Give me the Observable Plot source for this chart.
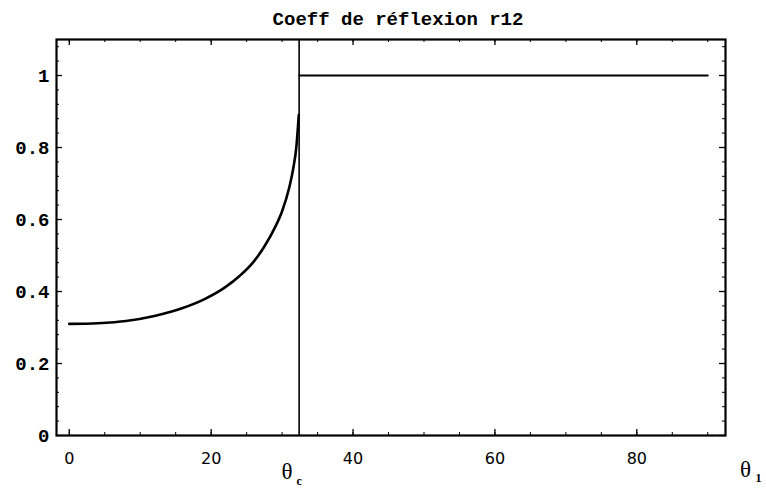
<!DOCTYPE html>
<html>
<head>
<meta charset="utf-8">
<script src="https://cdn.jsdelivr.net/npm/d3@7"></script>
<script src="https://cdn.jsdelivr.net/npm/@observablehq/plot@0.6"></script>
<style>
  html, body { margin: 0; padding: 0; background: #fff; }
  #chart svg { display: block; }
</style>
</head>
<body>
<div id="chart"></div>
<script>
// Data
const theta = [0, 4, 8, 12, 16, 19, 22, 24, 26, 27.5, 29, 30, 31, 31.6, 32, 32.35];
const r12   = [0.31, 0.312, 0.318, 0.332, 0.354, 0.378, 0.412, 0.443, 0.483, 0.525, 0.578, 0.623, 0.688, 0.745, 0.8, 0.89];
const thetaFlat = [32.4, 90];
const rFlat = [1, 1];
const thetaC = [32.4];
const xMajor = [0, 20, 40, 60, 80];
const xMinor = d3.range(0, 91, 5);
const yMajor = [0, 0.2, 0.4, 0.6, 0.8, 1];
const yLabels = ["0", "0.2", "0.4", "0.6", "0.8", "1"];
const yMinor = d3.range(0, 1.1, 0.04);
const titleText = "Coeff de réflexion r12";

const W = 766, H = 488;
const mL = 56, mR = 41, mT = 39, mB = 53;
const pw = W - mL - mR, ph = H - mT - mB;

const curve = theta.map((t, i) => ({t, r: r12[i]}));
const flat = thetaFlat.map((t, i) => ({t, r: rFlat[i]}));

const chart = Plot.plot({
  width: W, height: H,
  marginLeft: mL, marginRight: mR, marginTop: mT, marginBottom: mB,
  style: {background: "#fff", color: "#000", overflow: "visible"},
  x: {domain: [-1.8, 92.5]},
  y: {domain: [0, 1.1]},
  marks: [
    // minor ticks (inward)
    Plot.ruleX(xMinor, {x: d => d, insetTop: ph - 3, strokeWidth: 1}),
    Plot.ruleX(xMinor, {x: d => d, insetBottom: ph - 3, strokeWidth: 1}),
    Plot.ruleY(yMinor, {y: d => d, insetRight: pw - 3, strokeWidth: 1}),
    Plot.ruleY(yMinor, {y: d => d, insetLeft: pw - 3, strokeWidth: 1}),
    // major ticks (inward)
    Plot.ruleX(xMajor, {x: d => d, insetTop: ph - 6, strokeWidth: 1.3}),
    Plot.ruleX(xMajor, {x: d => d, insetBottom: ph - 6, strokeWidth: 1.3}),
    Plot.ruleY(yMajor, {y: d => d, insetRight: pw - 6, strokeWidth: 1.3}),
    Plot.ruleY(yMajor, {y: d => d, insetLeft: pw - 6, strokeWidth: 1.3}),
    Plot.axisX(xMajor, {tickSize: 0, tickPadding: 17, fontSize: 16, fontFamily: "DejaVu Sans", label: null}),
    Plot.axisY(yMajor, {tickSize: 0, tickPadding: 7, fontSize: 19, fontFamily: "Liberation Mono", fontWeight: "bold", label: null,
      tickFormat: d => yLabels[yMajor.indexOf(d)]}),
    Plot.frame({strokeWidth: 2.2}),
    Plot.ruleX(thetaC, {x: d => d, strokeWidth: 1.6}),
    Plot.line(flat, {x: "t", y: "r", strokeWidth: 2}),
    Plot.line(curve, {x: "t", y: "r", strokeWidth: 2.6, curve: "monotone-x"}),
    // title
    Plot.text([titleText], {text: d => d, frameAnchor: "top", dx: 7, dy: -15, lineAnchor: "bottom", fontSize: 19, fontFamily: "Liberation Mono", fontWeight: "bold"}),
    // theta_c label
    Plot.text(thetaC, {x: d => d, text: () => "θ", frameAnchor: "bottom", dx: -12, dy: 43, lineAnchor: "bottom", fontSize: 23, fontFamily: "Liberation Serif"}),
    Plot.text(thetaC, {x: d => d, text: () => "c", frameAnchor: "bottom", dx: 0, dy: 49, lineAnchor: "bottom", fontSize: 12, fontWeight: "bold", fontFamily: "Liberation Serif"}),
    // theta_1 label
    Plot.text(["θ"], {text: d => d, frameAnchor: "bottom-right", dx: 20, dy: 41, lineAnchor: "bottom", textAnchor: "middle", fontSize: 23, fontFamily: "Liberation Serif"}),
    Plot.text(["1"], {text: d => d, frameAnchor: "bottom-right", dx: 33, dy: 46, lineAnchor: "bottom", textAnchor: "middle", fontSize: 12, fontWeight: "bold", fontFamily: "Liberation Serif"})
  ]
});
document.getElementById("chart").appendChild(chart);
</script>
</body>
</html>
